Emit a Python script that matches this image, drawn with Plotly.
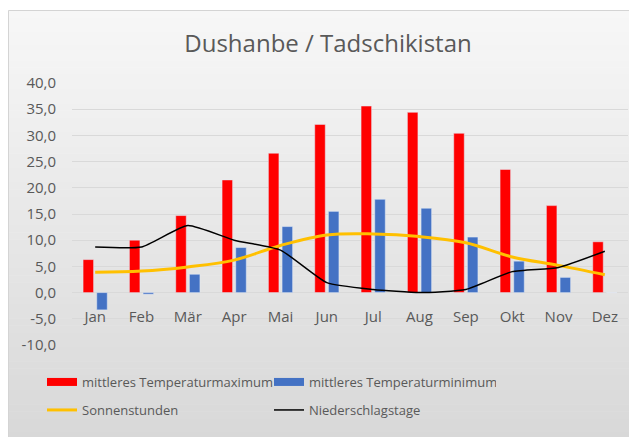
import plotly.graph_objects as go

# Klimadaten Dushanbe
monate = ['Jan', 'Feb', 'Mär', 'Apr', 'Mai', 'Jun', 'Jul', 'Aug', 'Sep', 'Okt', 'Nov', 'Dez']
temp_max = [6.3, 10.0, 14.7, 21.5, 26.6, 32.1, 35.6, 34.4, 30.4, 23.5, 16.6, 9.7]
temp_min = [-3.3, -0.3, 3.5, 8.6, 12.6, 15.5, 17.8, 16.1, 10.6, 6.0, 2.9, 0.0]
sonnenstunden = [3.9, 4.1, 4.9, 6.2, 9.0, 11.0, 11.2, 10.7, 9.5, 6.8, 5.2, 3.4]
niederschlagstage = [8.7, 8.7, 12.8, 10.0, 8.1, 1.9, 0.6, 0.0, 0.6, 4.0, 4.8, 7.9]

y_ticks = [40, 35, 30, 25, 20, 15, 10, 5, 0, -5, -10]
y_ticktext = ['40,0', '35,0', '30,0', '25,0', '20,0', '15,0', '10,0', '5,0', '0,0', '-5,0', '-10,0']

# die Seite hat 8px Rand, Koordinaten unten sind Bildschirm-Pixel
OFF = 8
W, H = 637 - OFF, 437 - OFF
L, R, T, B = 72 - OFF, 9, 83 - OFF, 92
plot_w = W - L - R
plot_h = H - T - B
grau = '#595959'
schrift = 'Open Sans'


def px_x(sx):
    return (sx - OFF - L) / plot_w


def px_y(sy):
    return (H - B - (sy - OFF)) / plot_h


fig = go.Figure()

fig.add_trace(go.Bar(x=monate, y=temp_max, name='mittleres Temperaturmaximum',
                     marker_color='#ff0000', showlegend=False,
                     legendgroup='max'))
fig.add_trace(go.Bar(x=monate, y=temp_min, name='mittleres Temperaturminimum',
                     marker_color='#4472c4', showlegend=False,
                     legendgroup='min'))

# breite Farbfelder in der Legende wie bei Excel
fig.add_trace(go.Scatter(x=[None], y=[None], mode='lines', name='mittleres Temperaturmaximum',
                         line=dict(color='#ff0000', width=8), legendgroup='max',
                         legend='legend'))
fig.add_trace(go.Scatter(x=[None], y=[None], mode='lines', name='mittleres Temperaturminimum',
                         line=dict(color='#4472c4', width=8), legendgroup='min',
                         legend='legend'))

fig.add_trace(go.Scatter(x=monate, y=sonnenstunden, mode='lines', name='Sonnenstunden',
                         line=dict(color='#ffc000', width=3, shape='spline', smoothing=1.0),
                         legend='legend2'))
fig.add_trace(go.Scatter(x=monate, y=niederschlagstage, mode='lines', name='Niederschlagstage',
                         line=dict(color='#000000', width=1.5, shape='spline', smoothing=0.5),
                         legend='legend2'))

# Hintergrundverlauf des Diagrammbereichs
shapes = []
x0, x1, y_top, y_bot = 8, 640, 10, 440
bands = 60
for i in range(bands):
    t = i / (bands - 1)
    c = int(round(247 - t * (247 - 216)))
    top = y_top + (y_bot - y_top) * i / bands
    bot = y_top + (y_bot - y_top) * (i + 1) / bands + 0.5
    shapes.append(dict(type='rect', xref='paper', yref='paper', layer='below',
                       x0=px_x(x0), x1=px_x(x1), y0=px_y(bot), y1=px_y(top),
                       fillcolor=f'rgb({c},{c},{c})', line=dict(width=0)))
shapes.append(dict(type='rect', xref='paper', yref='paper', layer='below',
                   x0=px_x(x0 + 0.5), x1=px_x(x1 + 2), y0=px_y(y_bot + 2), y1=px_y(y_top + 0.5),
                   line=dict(color='#d4d4d4', width=1)))

fig.update_layout(
    width=W, height=H,
    margin={'l': L, 'r': R, 't': T, 'b': B, 'autoexpand': False},
    paper_bgcolor='white',
    plot_bgcolor='rgba(0,0,0,0)',
    font=dict(family=schrift, color=grau, size=14),
    title=dict(text='Dushanbe / Tadschikistan', x=px_x(328), xref='paper', xanchor='center',
               y=1 - (44 - OFF) / H, yanchor='middle', font=dict(size=24, color=grau)),
    barmode='group', bargap=0.41, bargroupgap=0.23,
    shapes=shapes,
    legend=dict(orientation='h', x=px_x(42), xanchor='left', y=px_y(382), yanchor='middle',
                entrywidth=182, entrywidthmode='pixels', bgcolor='rgba(0,0,0,0)',
                font=dict(size=13, color=grau)),
    legend2=dict(orientation='h', x=px_x(42), xanchor='left', y=px_y(410), yanchor='middle',
                 entrywidth=182, entrywidthmode='pixels', bgcolor='rgba(0,0,0,0)',
                 font=dict(size=13, color=grau)),
)

fig.update_xaxes(type='category', anchor='free', position=px_y(292.6), showline=False,
                 showgrid=False, ticks='', ticklabelstandoff=13,
                 tickfont=dict(size=15, color=grau))
fig.update_yaxes(range=[-10, 40], tickvals=y_ticks, ticktext=y_ticktext,
                 gridcolor='#d9d9d9', gridwidth=1, zeroline=False, showline=False,
                 ticks='', ticklabelstandoff=15, tickfont=dict(size=15, color=grau))

fig.write_html("out.html")
